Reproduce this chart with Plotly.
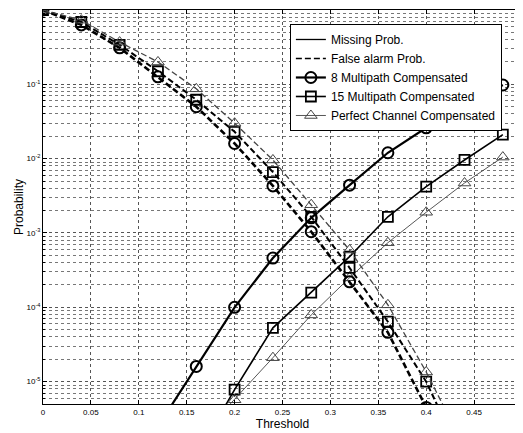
import plotly.graph_objects as go

# ---- data ----
thresholds = [0.00, 0.04, 0.08, 0.12, 0.16, 0.20, 0.24, 0.28, 0.32, 0.36, 0.40, 0.44, 0.48]

miss_8mp = [None, None, None, 2.5e-6, 1.6e-5, 1.0e-4, 4.6e-4, 1.6e-3, 4.4e-3, 1.2e-2, 2.6e-2, 5.0e-2, 9.8e-2]
miss_15mp = [None, None, None, None, 1.0e-6, 7.8e-6, 5.3e-5, 1.58e-4, 4.8e-4, 1.65e-3, 4.2e-3, 9.6e-3, 2.1e-2]
miss_pc = [None, None, None, None, 1.6e-6, 5.7e-6, 2.1e-5, 7.9e-5, 2.5e-4, 7.4e-4, 1.9e-3, 4.7e-3, 1.05e-2]

fa_8mp = [1.0, 0.63, 0.31, 0.126, 0.050, 0.016, 4.3e-3, 1.04e-3, 2.2e-4, 4.6e-5, 4.5e-6, None, None]
fa_15mp = [1.0, 0.69, 0.34, 0.15, 0.062, 0.023, 6.6e-3, 1.65e-3, 3.4e-4, 6.4e-5, 1.0e-5, 8e-7, None]
fa_pc = [1.0, 0.73, 0.37, 0.20, 0.087, 0.030, 9.6e-3, 2.4e-3, 5.9e-4, 1.08e-4, 1.35e-5, 1.3e-6, None]

x_tickvals = [0, 0.05, 0.1, 0.15, 0.2, 0.25, 0.3, 0.35, 0.4, 0.45]
x_ticktext = ["0", "0.05", "0.1", "0.15", "0.2", "0.25", "0.3", "0.35", "0.4", "0.45"]
y_tickvals = [1e0, 1e-1, 1e-2, 1e-3, 1e-4, 1e-5]
y_ticktext = ["10<sup>0</sup>", "10<sup>-1</sup>", "10<sup>-2</sup>", "10<sup>-3</sup>",
              "10<sup>-4</sup>", "10<sup>-5</sup>"]

series_names = ["8 Multipath Compensated", "15 Multipath Compensated", "Perfect Channel Compensated"]

# ---- figure ----
fig = go.Figure()

# legend-only style keys
fig.add_trace(go.Scatter(x=[None], y=[None], mode="lines", name="Missing Prob.",
                         line=dict(color="black", width=1.3)))
fig.add_trace(go.Scatter(x=[None], y=[None], mode="lines", name="False alarm Prob.",
                         line=dict(color="black", width=1.3, dash="6px,3px")))

styles = [
    dict(symbol="circle-open", size=11, lw=2.2, mlw=2.0, color="black"),
    dict(symbol="square-open", size=10, lw=1.6, mlw=1.8, color="black"),
    dict(symbol="triangle-up-open", size=11, lw=0.9, mlw=1.0, color="#444444"),
]
missing = [miss_8mp, miss_15mp, miss_pc]
false_alarm = [fa_8mp, fa_15mp, fa_pc]

for name, st, ym in zip(series_names, styles, missing):
    fig.add_trace(go.Scatter(
        x=thresholds, y=ym, mode="lines+markers", name=name,
        line=dict(color=st["color"], width=st["lw"]),
        marker=dict(symbol=st["symbol"], size=st["size"], color=st["color"],
                    line=dict(color=st["color"], width=st["mlw"])),
    ))

for name, st, yf in zip(series_names, styles, false_alarm):
    fig.add_trace(go.Scatter(
        x=thresholds, y=yf, mode="lines+markers", name=name, showlegend=False,
        line=dict(color=st["color"], width=st["lw"] + 0.4, dash="6px,3px"),
        marker=dict(symbol=st["symbol"], size=st["size"], color=st["color"],
                    line=dict(color=st["color"], width=st["mlw"])),
    ))

minor_vals = [m * 10.0 ** e for e in range(-6, 0) for m in range(2, 10)]

# the page body has an 8px margin, so the figure is sized to fit the window
fig.update_layout(
    width=515, height=425,
    margin=dict(l=35, r=1, t=2, b=29),
    paper_bgcolor="white", plot_bgcolor="white",
    font=dict(family="Liberation Sans, Arial, sans-serif", color="black"),
    showlegend=True,
    legend=dict(x=0.958, y=0.9645, xanchor="right", yanchor="top",
                bgcolor="white", bordercolor="black", borderwidth=1,
                font=dict(size=12), tracegroupgap=0, itemwidth=30),
    xaxis=dict(
        range=[0, 0.5], tickmode="array", tickvals=x_tickvals, ticktext=x_ticktext,
        tickfont=dict(size=8), ticks="inside", ticklen=4, tickcolor="black",
        showline=True, linecolor="black", linewidth=1, mirror="ticks",
        showgrid=True, gridcolor="#555555", griddash="dot", gridwidth=1,
        zeroline=False,
        title=dict(text="Threshold", font=dict(size=12), standoff=0),
    ),
    yaxis=dict(
        type="log", range=[-5.301, 0], tickmode="array", tickvals=y_tickvals,
        ticktext=y_ticktext, tickfont=dict(size=8), ticks="inside", ticklen=4,
        tickcolor="black", showline=True, linecolor="black", linewidth=1,
        mirror="ticks", showgrid=True, gridcolor="#555555", griddash="dot",
        gridwidth=1, zeroline=False,
        minor=dict(tickmode="array", tickvals=minor_vals, showgrid=True,
                   gridcolor="#777777", griddash="dot", gridwidth=1,
                   ticks="inside", ticklen=2, tickcolor="black"),
        title=dict(text="Probability", font=dict(size=12), standoff=0),
    ),
)

fig.write_html("out.html")
